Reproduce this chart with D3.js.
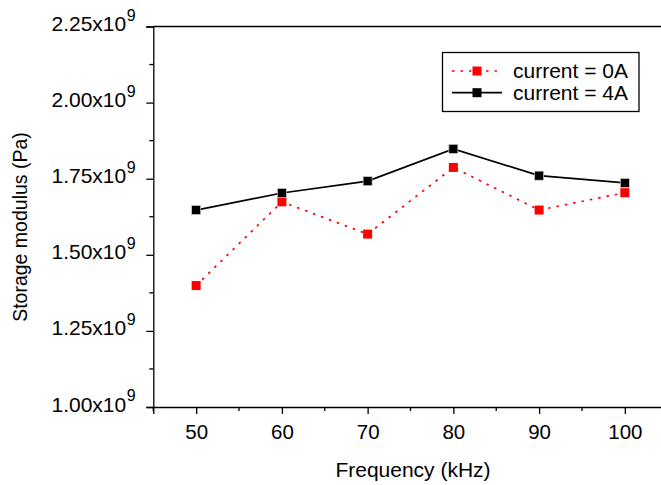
<!DOCTYPE html>
<html><head><meta charset="utf-8">
<script src="https://cdn.jsdelivr.net/npm/d3@7"></script>
<style>body{margin:0;background:#fff}svg{display:block}text{font-family:"Liberation Sans",Arial,sans-serif;fill:#000}</style>
</head><body><svg id="c" width="661" height="485"></svg>
<script>
const frequencies = [50, 60, 70, 80, 90, 100];
const current0A = [1.399, 1.674, 1.568, 1.787, 1.647, 1.704];
const current4A = [1.647, 1.703, 1.742, 1.848, 1.760, 1.736];
const xTicks = [50, 60, 70, 80, 90, 100];
const yTicks = [1.00, 1.25, 1.50, 1.75, 2.00, 2.25];
const seriesNames = ["current = 0A", "current = 4A"];

const svg = d3.select("#c");
const L = 153.3, R = 667.7, T = 26.5, B = 407;
const x = d3.scaleLinear().domain([45, 105]).range([L, R]);
const y = d3.scaleLinear().domain([1.0, 2.25]).range([B, T]);
const FONT = "Liberation Sans, Arial, sans-serif";

// top frame line
svg.append("line").attr("x1", L).attr("x2", 661).attr("y1", T).attr("y2", T).attr("stroke", "#000").attr("stroke-width", 1.3);

// x axis
const xAx = svg.append("g").attr("transform", `translate(0,${B})`)
  .call(d3.axisBottom(x).tickValues(xTicks).tickSize(7).tickFormat(d3.format("d")));
xAx.select(".domain").attr("stroke-width", 1.3);
xAx.selectAll(".tick line").attr("stroke-width", 1.3);
xAx.selectAll("text").attr("font-size", 20.5).attr("y", 32).attr("dy", null).attr("font-family", FONT);
const xMinor = d3.range(45, 106, 5).filter(v => v % 10 !== 0);
svg.append("g").selectAll("line").data(xMinor).join("line")
  .attr("x1", d => x(d)).attr("x2", d => x(d)).attr("y1", B).attr("y2", B + 4)
  .attr("stroke", "#000").attr("stroke-width", 1.3);

// y axis
const yAx = svg.append("g").attr("transform", `translate(${L},0)`)
  .call(d3.axisLeft(y).tickValues(yTicks).tickSize(7).tickFormat(""));
yAx.select(".domain").attr("stroke-width", 1.3);
yAx.selectAll(".tick line").attr("stroke-width", 1.3);
const yMinor = d3.range(1.125, 2.25, 0.25);
svg.append("g").selectAll("line").data(yMinor).join("line")
  .attr("x1", L - 4).attr("x2", L).attr("y1", d => y(d)).attr("y2", d => y(d))
  .attr("stroke", "#000").attr("stroke-width", 1.3);
const yl = svg.append("g").selectAll("text").data(yTicks).join("text")
  .attr("x", 51.5).attr("y", d => y(d) + 4.5).attr("text-anchor", "start").attr("font-size", 21);
yl.append("tspan").text(d => d3.format(".2f")(d) + "x10");
yl.append("tspan").attr("font-size", 16).attr("dy", -10.5).attr("dx", 0.5).text("9");

// axis titles
svg.append("text").attr("x", 413).attr("y", 477).attr("text-anchor", "middle").attr("font-size", 21).text("Frequency (kHz)");
svg.append("text").attr("transform", "translate(27,227) rotate(-90)").attr("text-anchor", "middle").attr("font-size", 19.5).text("Storage modulus (Pa)");

const line = d3.line().x((d, i) => x(frequencies[i])).y(d => y(d));
// series 0A
svg.append("path").datum(current0A).attr("d", line).attr("fill", "none")
  .attr("stroke", "#ff0000").attr("stroke-width", 1.7).attr("stroke-dasharray", "2.5,6");
// series 4A
svg.append("path").datum(current4A).attr("d", line).attr("fill", "none")
  .attr("stroke", "#000").attr("stroke-width", 1.7);

const ms = 9;
svg.append("g").selectAll("rect").data(current0A).join("rect")
  .attr("x", (d, i) => x(frequencies[i]) - ms / 2).attr("y", d => y(d) - ms / 2)
  .attr("width", ms).attr("height", ms).attr("fill", "#ff0000");
svg.append("g").selectAll("rect").data(current4A).join("rect")
  .attr("x", (d, i) => x(frequencies[i]) - ms / 2).attr("y", d => y(d) - ms / 2)
  .attr("width", ms).attr("height", ms).attr("fill", "#000").attr("stroke", "#ccc").attr("stroke-width", 0.7);

// legend
const lg = svg.append("g");
lg.append("rect").attr("x", 442.5).attr("y", 52.5).attr("width", 196.5).attr("height", 59)
  .attr("fill", "#fff").attr("stroke", "#000").attr("stroke-width", 1.3);
const rows = [{c: "#ff0000", dash: "2.5,6", y: 71}, {c: "#000", dash: null, y: 92.7}];
rows.forEach((r, i) => {
  lg.append("line").attr("x1", 452).attr("x2", 502).attr("y1", r.y).attr("y2", r.y)
    .attr("stroke", r.c).attr("stroke-width", 1.7).attr("stroke-dasharray", r.dash);
  lg.append("rect").attr("x", 477 - ms / 2).attr("y", r.y - ms / 2).attr("width", ms).attr("height", ms).attr("fill", r.c);
  lg.append("text").attr("x", 513).attr("y", r.y + 7).attr("font-size", 21).text(seriesNames[i]);
});
</script></body></html>
